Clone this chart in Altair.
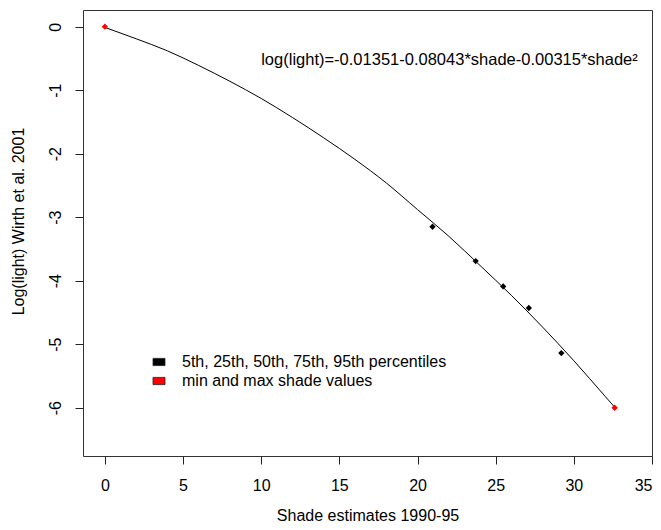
import altair as alt
import pandas as pd

# Fitted curve
curve_shade = [0, 2, 4, 6, 8, 10, 12, 14, 16, 18, 20, 22, 24, 26, 28, 30, 32, 32.61]
curve_log = [-0.01, -0.19, -0.38, -0.61, -0.86, -1.13, -1.43, -1.75, -2.09, -2.46,
             -2.88, -3.30, -3.76, -4.23, -4.73, -5.26, -5.82, -5.99]

# Percentile points (black)
pct_shade = [20.96, 23.72, 25.48, 27.12, 29.20]
pct_log = [-3.15, -3.69, -4.09, -4.43, -5.14]

# Min / max points (red)
range_shade = [0.0, 32.61]
range_log = [0.0, -6.0]

series_names = ["5th, 25th, 50th, 75th, 95th percentiles", "min and max shade values"]
series_colors = ["black", "red"]

x_ticks = [0, 5, 10, 15, 20, 25, 30, 35]
y_ticks = [-6, -5, -4, -3, -2, -1, 0]

annot_text = ["log(light)=-0.01351-0.08043*shade-0.00315*shade²"]
annot_x = [10]
annot_y = [-0.53]

FONT = "Liberation Sans"

curve_df = pd.DataFrame({"shade": curve_shade, "loglight": curve_log})
pts_df = pd.DataFrame({
    "shade": pct_shade + range_shade,
    "loglight": pct_log + range_log,
    "series": [series_names[0]] * len(pct_shade) + [series_names[1]] * len(range_shade),
})
annot_df = pd.DataFrame({"shade": annot_x, "loglight": annot_y, "text": annot_text})

x_scale = alt.Scale(domain=[-1.40, 35.0], nice=False, zero=False)
y_scale = alt.Scale(domain=[-6.76, 0.263], nice=False, zero=False)

x_axis = alt.Axis(values=x_ticks, title="Shade estimates 1990-95", grid=False,
                  domain=False, tickSize=8, tickColor="#222", labelFontSize=16,
                  labelFont=FONT, labelColor="black", labelPadding=21,
                  labelBaseline="middle", labelExpr="datum.value + ''",
                  titleFontSize=16, titleFont=FONT,
                  titleFontWeight="normal", titleColor="black", titleY=59,
                  titleBaseline="middle")
y_axis = alt.Axis(values=y_ticks, title="Log(light) Wirth et al. 2001", grid=False,
                  domain=False, tickSize=8, tickColor="#222", labelFontSize=16,
                  labelFont=FONT, labelColor="black", labelAngle=270,
                  labelAlign="center", labelBaseline="middle", labelPadding=20,
                  labelExpr="datum.value + ''",
                  titleFontSize=16, titleFont=FONT, titleFontWeight="normal",
                  titleColor="black", titleAngle=270, titleX=-65, titleY=211,
                  titleAlign="center", titleBaseline="middle")

line = alt.Chart(curve_df).mark_line(color="black", strokeWidth=1, interpolate="monotone").encode(
    x=alt.X("shade:Q", scale=x_scale, axis=x_axis),
    y=alt.Y("loglight:Q", scale=y_scale, axis=y_axis),
)

points = alt.Chart(pts_df).mark_point(shape="diamond", filled=True, size=40, opacity=1).encode(
    x=alt.X("shade:Q", scale=x_scale),
    y=alt.Y("loglight:Q", scale=y_scale),
    color=alt.Color("series:N",
                    scale=alt.Scale(domain=series_names, range=series_colors),
                    legend=alt.Legend(title=None, orient="none", legendX=68, legendY=344,
                                      symbolType="M-1,-0.6H1V0.6H-1Z", symbolSize=144,
                                      symbolStrokeColor="#222", symbolStrokeWidth=0.8,
                                      labelFontSize=16, labelFont=FONT, labelColor="black",
                                      labelOffset=15, labelLimit=0, rowPadding=3, padding=0)),
)

annot = alt.Chart(annot_df).mark_text(align="left", baseline="middle", fontSize=16.5,
                                      font=FONT, color="black").encode(
    x=alt.X("shade:Q", scale=x_scale),
    y=alt.Y("loglight:Q", scale=y_scale),
    text="text:N",
)

chart = alt.layer(line, points, annot).properties(
    width=569, height=446,
    autosize=alt.AutoSizeParams(type="none"),
    padding={"left": 75, "top": 2, "right": 1, "bottom": 70},
    background="white",
).configure_view(stroke="#333", strokeWidth=1)

chart.save("out.html", embed_options={"renderer": "svg", "actions": False})
